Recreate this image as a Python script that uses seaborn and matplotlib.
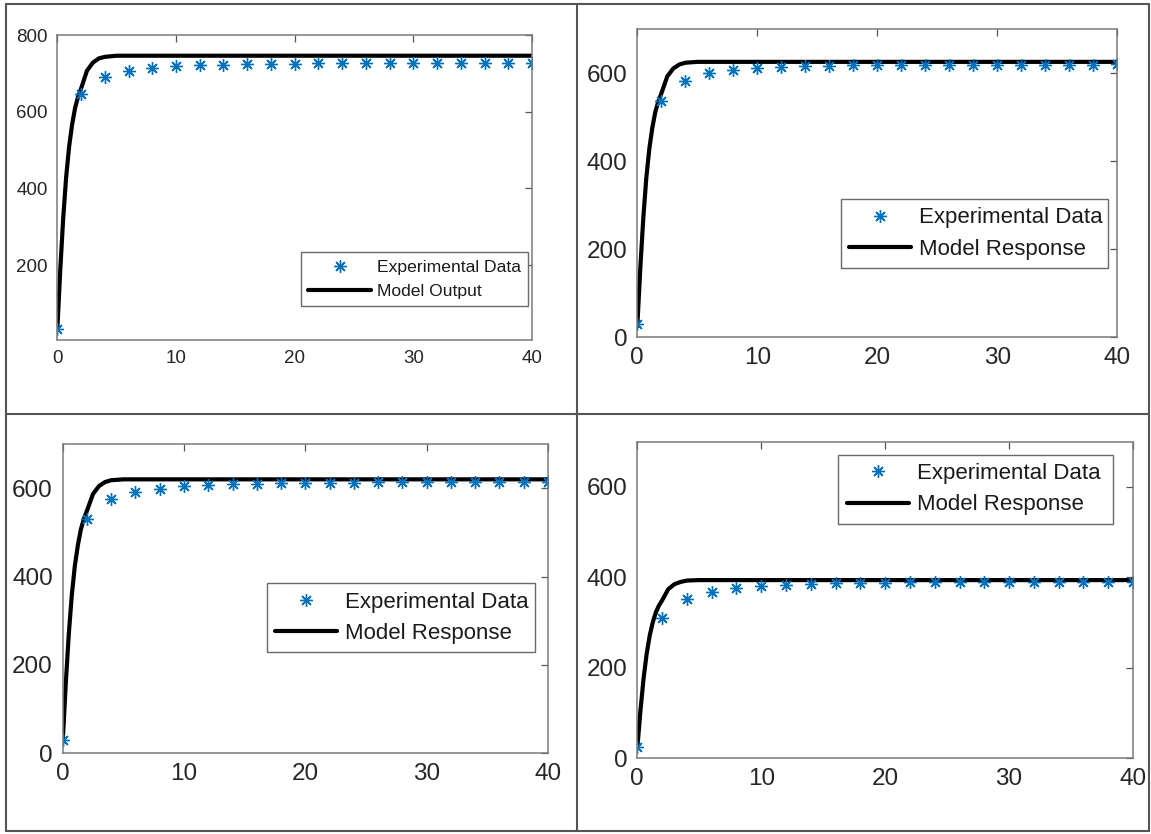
import matplotlib
matplotlib.use("Agg")
import numpy as np
import pandas as pd
import seaborn as sns
import matplotlib.pyplot as plt
from matplotlib.lines import Line2D

# ---------------- data ----------------
time = [0, 2, 4, 6, 8, 10, 12, 14, 16, 18, 20, 22, 24, 26, 28, 30, 32, 34, 36, 38, 40]

exp_1 = [33, 646, 690, 706, 713, 718, 721, 723, 724, 725, 725, 726, 726, 726, 726, 726, 726, 726, 726, 726, 727]
exp_2 = [30, 538, 583, 600, 607, 611, 614, 616, 617, 618, 618, 619, 619, 619, 619, 620, 620, 620, 620, 620, 621]
exp_3 = [29, 530, 575, 591, 599, 604, 607, 609, 610, 611, 612, 612, 612, 613, 613, 613, 613, 613, 613, 613, 614]
exp_4 = [26, 311, 353, 368, 376, 381, 384, 386, 387, 388, 388, 389, 389, 389, 389, 389, 389, 389, 389, 390, 390]

model_t = [0, 0.25, 0.5, 0.75, 1.0, 1.25, 1.5, 1.75, 2.0, 2.5, 3.0, 3.5, 4.0, 5.0, 6.0, 40]
model_1 = [31, 188, 324, 431, 510, 567, 610, 639, 660, 707, 728, 739, 743, 746, 746, 746]
model_2 = [25, 157, 271, 362, 428, 476, 512, 536, 554, 593, 611, 620, 624, 626, 626, 626]
model_3 = [25, 156, 269, 358, 424, 471, 507, 531, 549, 587, 605, 614, 618, 620, 620, 620]
model_4 = [22, 104, 175, 230, 271, 301, 323, 338, 349, 374, 385, 390, 393, 394, 394, 394]

exp_label = "Experimental Data"
model_labels = ["Model Output", "Model Response", "Model Response", "Model Response"]
yticks_1 = [200, 400, 600, 800]
yticks_other = [0, 200, 400, 600]
xticks = [0, 10, 20, 30, 40]

# ---------------- style ----------------
sns.set_theme(style="white")
plt.rcParams["font.family"] = ["Liberation Sans", "DejaVu Sans"]

W, H = 1151, 834
fig = plt.figure(figsize=(W / 100, H / 100), dpi=100)
fig.patch.set_facecolor("white")

def frac(l, t, r, b):
    return [l / W, 1 - b / H, (r - l) / W, (b - t) / H]

panels = [
    dict(box=(57.3, 35, 532, 340), ylim=(5, 800), yticks=yticks_1,
         exp=exp_1, model=model_1, label=model_labels[0], tfs=13.5, lfs=12.6,
         leg=(301, 253.3, 527.7), hl=3.6, ls=0.5, bp=0.42),
    dict(box=(637.3, 29.3, 1117.3, 337.3), ylim=(0, 700), yticks=yticks_other,
         exp=exp_2, model=model_2, label=model_labels[1], tfs=17.5, lfs=16,
         leg=(841, 200, 1107.7), hl=2.8, ls=0.46, bp=0.37),
    dict(box=(62.7, 444, 547.9, 753.3), ylim=(0, 700), yticks=yticks_other,
         exp=exp_3, model=model_3, label=model_labels[2], tfs=17.5, lfs=16,
         leg=(266.6, 584.3, 535.4), hl=2.8, ls=0.46, bp=0.37),
    dict(box=(637.3, 441.7, 1133, 758.3), ylim=(0, 700), yticks=yticks_other,
         exp=exp_4, model=model_4, label=model_labels[3], tfs=17.5, lfs=16,
         leg=(838.3, 455.7, 1113.3), hl=2.8, ls=0.46, bp=0.37),
]

blue = "#0072BD"
for p in panels:
    ax = fig.add_axes(frac(*p["box"]))
    ax.set_facecolor("white")
    df_exp = pd.DataFrame({"t": time, "y": p["exp"]})
    df_mod = pd.DataFrame({"t": model_t, "y": p["model"]})
    sns.lineplot(data=df_mod, x="t", y="y", ax=ax, color="black", linewidth=3.0,
                 estimator=None, sort=False, label=p["label"])
    sns.lineplot(data=df_exp, x="t", y="y", ax=ax, color=blue, linestyle="none",
                 marker=(8, 2, 0), markersize=9, markeredgewidth=1.0,
                 markeredgecolor=blue, estimator=None, sort=False, label=exp_label)
    ax.set_xlim(0, 40)
    ax.set_ylim(*p["ylim"])
    ax.set_xticks(xticks)
    ax.set_yticks(p["yticks"])
    ax.set_xlabel("")
    ax.set_ylabel("")
    for s in ax.spines.values():
        s.set_visible(True)
        s.set_color("#7a7a7a")
        s.set_linewidth(1.1)
    ax.tick_params(direction="in", top=True, right=True, length=5, width=0.9,
                   color="#555555", labelcolor="#262626", labelsize=p["tfs"])
    ax.tick_params(axis="y", pad=7)
    ax.tick_params(axis="x", pad=7)

    handles, labels = ax.get_legend_handles_labels()
    order = [labels.index(exp_label), labels.index(p["label"])]
    lx0, ly0, lx1 = p["leg"]
    leg = ax.legend([handles[i] for i in order], [labels[i] for i in order],
                    loc="upper left",
                    bbox_to_anchor=(lx0 / W, 1 - ly0 / H, (lx1 - lx0) / W, 0.001),
                    bbox_transform=fig.transFigure, mode="expand",
                    borderaxespad=0, frameon=True, fancybox=False,
                    edgecolor="#6a6a6a", framealpha=1, fontsize=p["lfs"],
                    handlelength=p["hl"], handletextpad=0.35, borderpad=p["bp"],
                    labelspacing=p["ls"], numpoints=1)
    leg.get_frame().set_linewidth(1.0)
    for t in leg.get_texts():
        t.set_color("#1a1a1a")

# ---------------- frame lines of the table ----------------
def fline(x0, y0, x1, y1):
    fig.add_artist(Line2D([x0 / W, x1 / W], [1 - y0 / H, 1 - y1 / H],
                          transform=fig.transFigure, color="#555555", linewidth=1.5))

fline(5.5, 4, 1148.5, 4)
fline(5.5, 831, 1148.5, 831)
fline(5.5, 4, 5.5, 831)
fline(1148.5, 4, 1148.5, 831)
fline(577, 4, 577, 831)
fline(5.5, 414, 1148.5, 414)

fig.savefig("out.png", dpi=100, facecolor="white")
